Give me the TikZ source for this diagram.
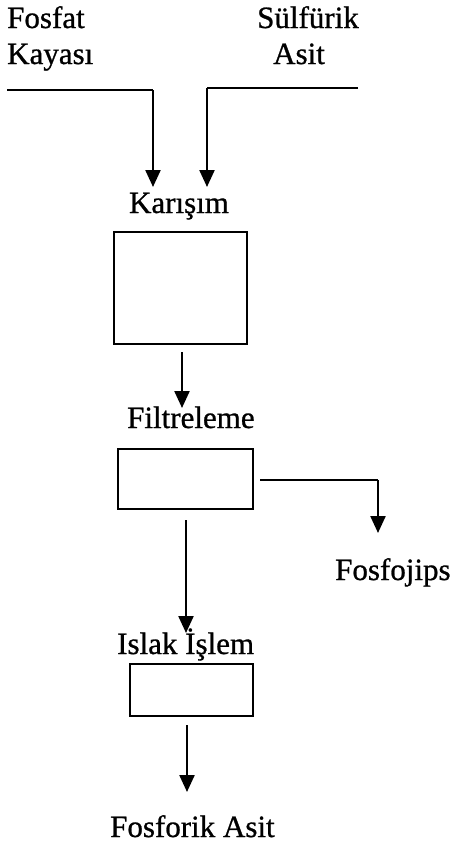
\documentclass[tikz,border=0pt]{standalone}
\usepackage{fontspec}
\setmainfont[FakeBold=0.8]{Liberation Serif}
\usetikzlibrary{arrows.meta}
\tikzset{
  lbl/.style={inner sep=0pt, font=\fontsize{31}{37}\selectfont},
  unit/.style={draw, line width=2.6pt, inner sep=0pt},
  flow/.style={line width=2.3pt},
  arr/.style={flow, -{Triangle[width=15pt,length=17pt]}}
}
\begin{document}
\begin{tikzpicture}[x=1pt,y=-1pt]
\useasboundingbox (0,0) rectangle (458,846);
% feed labels
\node[lbl, anchor=base west] (fosfat) at (7,28) {Fosfat};
\node[lbl, anchor=base west] (kayasi) at (7,64) {Kayası};
\node[lbl, anchor=base west] (sulf) at (257,28) {Sülfürik};
\node[lbl, anchor=base west] (asit) at (273,64) {Asit};
% process labels
\node[lbl, anchor=base] (karisim) at (179,213) {Karışım};
\node[lbl, anchor=base west] (filt) at (127,428) {Filtreleme};
\node[lbl, anchor=base west] (islak) at (117,654) {Islak İşlem};
\node[lbl, anchor=base west] (gips) at (335,580) {Fosfojips};
\node[lbl, anchor=base west] (urun) at (110,837) {Fosforik Asit};
% process units
\node[unit, minimum width=133pt, minimum height=112pt] (mix) at (180.5,288) {};
\node[unit, minimum width=135pt, minimum height=60pt] (filter) at (185.5,479) {};
\node[unit, minimum width=123pt, minimum height=52pt] (wet) at (191.5,690) {};
% feed lines
\coordinate (rockin) at (7,90);
\coordinate (rockbend) at (153,90);
\coordinate (acidin) at (358,88);
\coordinate (acidbend) at (207,88);
\coordinate (rocktip) at (153,187);
\coordinate (acidtip) at (207,187);
\draw[flow] (rockin) -- (rockbend);
\draw[arr] (rockbend) -- (rocktip);
\draw[flow] (acidin) -- (acidbend);
\draw[arr] (acidbend) -- (acidtip);
% mixing -> filtration
\coordinate (m1) at (182,352);
\coordinate (m2) at (182,408);
\draw[arr] (m1) -- (m2);
% filtration -> phosphogypsum
\coordinate (g1) at (260,480);
\coordinate (g2) at (378,480);
\coordinate (g3) at (378,533);
\draw[flow] (g1) -- (g2);
\draw[arr] (g2) -- (g3);
% filtration -> wet process
\coordinate (f1) at (186,520);
\coordinate (f2) at (186,633);
\draw[arr] (f1) -- (f2);
% wet process -> phosphoric acid
\coordinate (w1) at (187,725);
\coordinate (w2) at (187,792);
\draw[arr] (w1) -- (w2);
\end{tikzpicture}
\end{document}
